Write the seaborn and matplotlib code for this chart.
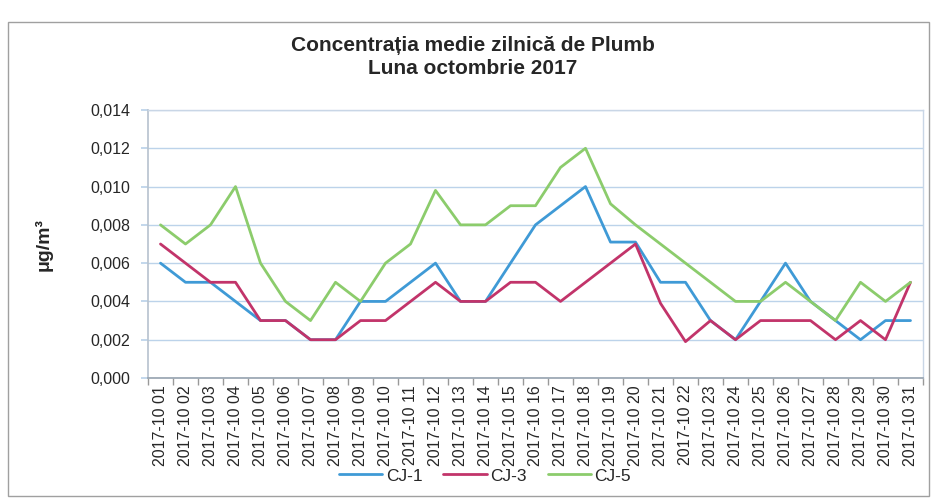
import matplotlib
matplotlib.use("Agg")
import matplotlib.pyplot as plt
from matplotlib.patches import Rectangle
from matplotlib.ticker import FuncFormatter, FixedLocator
import seaborn as sns
import pandas as pd

# Data (ug/m3), one value per day of October 2017
days = [f"2017-10 {d:02d}" for d in range(1, 32)]
cj1 = [0.006, 0.005, 0.005, 0.004, 0.003, 0.003, 0.002, 0.002, 0.004, 0.004,
       0.005, 0.006, 0.004, 0.004, 0.006, 0.008, 0.009, 0.010, 0.0071, 0.0071,
       0.005, 0.005, 0.003, 0.002, 0.004, 0.006, 0.004, 0.003, 0.002, 0.003,
       0.003]
cj3 = [0.007, 0.006, 0.005, 0.005, 0.003, 0.003, 0.002, 0.002, 0.003, 0.003,
       0.004, 0.005, 0.004, 0.004, 0.005, 0.005, 0.004, 0.005, 0.006, 0.007,
       0.0039, 0.0019, 0.003, 0.002, 0.003, 0.003, 0.003, 0.002, 0.003, 0.002,
       0.005]
cj5 = [0.008, 0.007, 0.008, 0.010, 0.006, 0.004, 0.003, 0.005, 0.004, 0.006,
       0.007, 0.0098, 0.008, 0.008, 0.009, 0.009, 0.011, 0.012, 0.0091, 0.008,
       0.007, 0.006, 0.005, 0.004, 0.004, 0.005, 0.004, 0.003, 0.005, 0.004,
       0.005]
stations = ["CJ-1", "CJ-3", "CJ-5"]
y_ticks = [0.0, 0.002, 0.004, 0.006, 0.008, 0.010, 0.012, 0.014]

df = pd.concat([
    pd.DataFrame({"Ziua": days, "Conc": vals, "Statie": name})
    for name, vals in zip(stations, [cj1, cj3, cj5])
])

colors = {"CJ-1": "#3f9ad6", "CJ-3": "#c2346a", "CJ-5": "#8ccc6c"}

sns.set_theme(style="white")
plt.rcParams["font.family"] = ["Liberation Sans", "DejaVu Sans"]

fig = plt.figure(figsize=(9.31, 4.99), dpi=100)
ax = fig.add_axes([148 / 931, 1 - 378 / 499, 775 / 931, 268 / 499])

sns.lineplot(data=df, x="Ziua", y="Conc", hue="Statie", palette=colors,
             sort=False, linewidth=2, ax=ax, legend=True)

ax.set_xlim(-0.5, len(days) - 0.5)
ax.set_ylim(0, 0.014)
ax.set_yticks(y_ticks)
ax.yaxis.set_major_formatter(FuncFormatter(lambda v, p: f"{v:.3f}".replace(".", ",")))
ax.grid(axis="y", color="#bcd3ea", linewidth=1)
ax.set_axisbelow(True)

ax.set_xticks(range(len(days)))
ax.set_xticklabels(days, rotation=90, fontsize=11.5)
ax.xaxis.set_minor_locator(FixedLocator([i - 0.5 for i in range(len(days) + 1)]))
ax.tick_params(axis="x", which="major", length=0, pad=5)
ax.tick_params(axis="x", which="minor", length=5, color="#999999", direction="out", bottom=True)
ax.tick_params(axis="y", labelsize=11.5, length=5, color="#bcd3ea", left=True, pad=8)

for side in ["top", "right"]:
    ax.spines[side].set_color("#c9d6e6")
    ax.spines[side].set_linewidth(1)
ax.spines["left"].set_color("#b9c4d0")
ax.spines["bottom"].set_color("#9aa6b2")

ax.set_xlabel("")
ax.set_ylabel("")

# Legend under the axis labels
handles, labels = ax.get_legend_handles_labels()
ax.get_legend().remove()
fig.legend(handles, labels, loc="center", bbox_to_anchor=(485 / 931, 1 - 476 / 499),
           ncol=3, frameon=False, fontsize=12.5, handlelength=2.5, columnspacing=1.2,
           handletextpad=0.2)

fig.text(0.508, 1 - 36 / 499, "Concentrația medie zilnică de Plumb\nLuna octombrie 2017",
         ha="center", va="top", fontsize=15, fontweight="bold", linespacing=1.3)
fig.text(44 / 931, 1 - 245 / 499, "μg/m³", rotation=90, ha="center", va="center",
         fontsize=14, fontweight="bold")

# outer chart border
fig.patches.append(Rectangle((8 / 931, 3 / 499), 921 / 931, 474 / 499,
                             transform=fig.transFigure, fill=False,
                             edgecolor="#a0a0a0", linewidth=1))

fig.savefig("out.png", dpi=100)
